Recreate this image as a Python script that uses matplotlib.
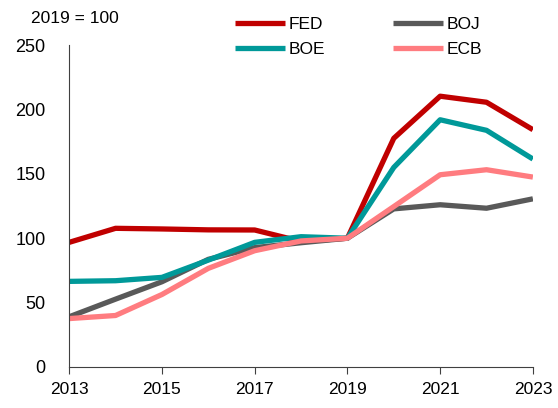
import matplotlib
matplotlib.use("Agg")
import matplotlib.pyplot as plt

plt.rcParams.update({"font.size": 12, "font.family": ["Liberation Sans", "DejaVu Sans"]})

years = [2013, 2014, 2015, 2016, 2017, 2018, 2019, 2020, 2021, 2022, 2023]
fed = [96.8, 107.7, 107.2, 106.5, 106.4, 97.5, 100, 177.6, 210.3, 205.6, 184.3]
boj = [39.0, 52.7, 66.2, 83.6, 92.7, 96.5, 100, 122.8, 126.0, 123.3, 130.6]
boe = [66.5, 67.0, 69.6, 83.0, 96.8, 101.2, 100, 155.0, 192.0, 183.8, 161.5]
ecb = [37.6, 40.0, 56.3, 76.6, 90.3, 97.9, 100, 124.6, 149.3, 153.2, 147.5]

series = [("FED", fed, "#C00000"), ("BOJ", boj, "#595959"),
          ("BOE", boe, "#009999"), ("ECB", ecb, "#FF7C80")]

fig = plt.figure(figsize=(5.58, 4.08), dpi=100)
ax = fig.add_axes([0.124, 0.1005, 0.831, 0.789])
lines = {}
for name, vals, col in series:
    lines[name], = ax.plot(years, vals, color=col, lw=3.8, label=name, solid_capstyle="butt")

ax.set_xlim(2013, 2023)
ax.set_ylim(0, 250)
ax.set_xticks(range(2013, 2024, 2))
ax.set_yticks(range(0, 251, 50))
ax.spines["top"].set_visible(False)
ax.spines["right"].set_visible(False)
for s in ("left", "bottom"):
    ax.spines[s].set_color("#404040")
ax.tick_params(axis="y", length=0, pad=17, labelsize=13)
ax.tick_params(axis="x", direction="out", length=5, color="#404040", pad=6, labelsize=12.5)

fig.text(0.055, 0.955, "2019 = 100", fontsize=12.5, va="center")
# column-wise fill: FED/BOE in first column, BOJ/ECB in second
order = ["FED", "BOE", "BOJ", "ECB"]
fig.legend([lines[k] for k in order], order, loc="upper left", bbox_to_anchor=(0.393, 0.998),
           ncol=2, frameon=False, handlelength=2.9, handletextpad=0.2, columnspacing=3.9,
           labelspacing=0.6, fontsize=12.5)
fig.savefig("out.png", dpi=100, facecolor="white")
